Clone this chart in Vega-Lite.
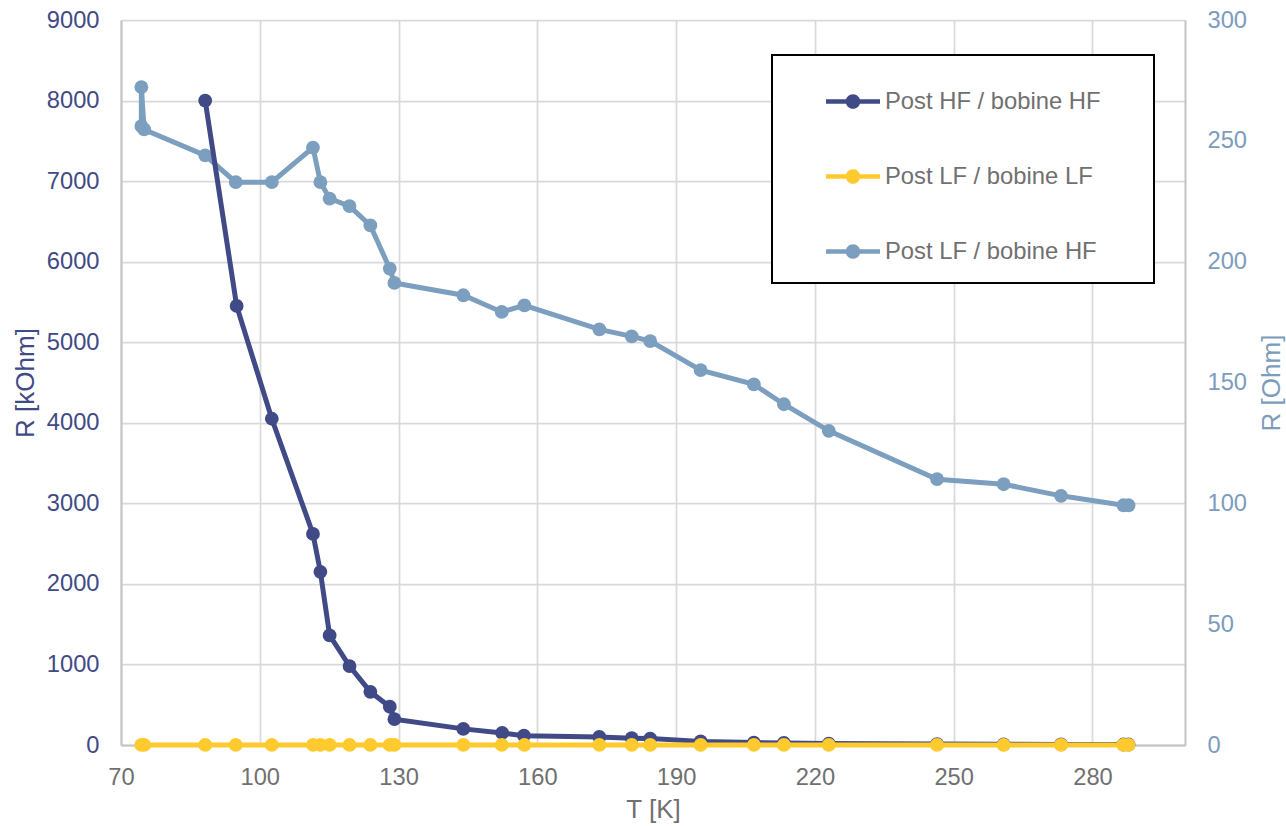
{
  "$schema": "https://vega.github.io/schema/vega-lite/v6.json",
  "width": 1064,
  "height": 725,
  "autosize": "none",
  "padding": {"left": 121, "top": 20, "right": 101, "bottom": 81},
  "background": "white",
  "datasets": {
    "pts": [
      {"T": 75.0, "series": "Post LF / bobine HF", "R_Ohm": 254.7},
      {"T": 74.4, "series": "Post LF / bobine HF", "R_Ohm": 256.1},
      {"T": 74.4, "series": "Post LF / bobine HF", "R_Ohm": 272.2},
      {"T": 88.2, "series": "Post LF / bobine HF", "R_Ohm": 244.0},
      {"T": 94.8, "series": "Post LF / bobine HF", "R_Ohm": 232.9},
      {"T": 102.6, "series": "Post LF / bobine HF", "R_Ohm": 232.9},
      {"T": 111.5, "series": "Post LF / bobine HF", "R_Ohm": 247.2},
      {"T": 113.1, "series": "Post LF / bobine HF", "R_Ohm": 232.9},
      {"T": 115.1, "series": "Post LF / bobine HF", "R_Ohm": 226.1},
      {"T": 119.4, "series": "Post LF / bobine HF", "R_Ohm": 223.0},
      {"T": 123.9, "series": "Post LF / bobine HF", "R_Ohm": 215.0},
      {"T": 128.1, "series": "Post LF / bobine HF", "R_Ohm": 197.1},
      {"T": 129.1, "series": "Post LF / bobine HF", "R_Ohm": 191.2},
      {"T": 144.0, "series": "Post LF / bobine HF", "R_Ohm": 186.1},
      {"T": 152.3, "series": "Post LF / bobine HF", "R_Ohm": 179.2},
      {"T": 157.2, "series": "Post LF / bobine HF", "R_Ohm": 181.9},
      {"T": 173.4, "series": "Post LF / bobine HF", "R_Ohm": 172.0},
      {"T": 180.4, "series": "Post LF / bobine HF", "R_Ohm": 169.1},
      {"T": 184.4, "series": "Post LF / bobine HF", "R_Ohm": 167.1},
      {"T": 195.3, "series": "Post LF / bobine HF", "R_Ohm": 155.1},
      {"T": 206.8, "series": "Post LF / bobine HF", "R_Ohm": 149.2},
      {"T": 213.3, "series": "Post LF / bobine HF", "R_Ohm": 141.0},
      {"T": 223.0, "series": "Post LF / bobine HF", "R_Ohm": 130.0},
      {"T": 246.4, "series": "Post LF / bobine HF", "R_Ohm": 110.0},
      {"T": 260.8, "series": "Post LF / bobine HF", "R_Ohm": 107.9},
      {"T": 273.2, "series": "Post LF / bobine HF", "R_Ohm": 103.1},
      {"T": 286.7, "series": "Post LF / bobine HF", "R_Ohm": 99.2},
      {"T": 287.8, "series": "Post LF / bobine HF", "R_Ohm": 99.2},

      {"T": 88.2, "series": "Post HF / bobine HF", "R_kOhm": 8000},
      {"T": 95.0, "series": "Post HF / bobine HF", "R_kOhm": 5450},
      {"T": 102.6, "series": "Post HF / bobine HF", "R_kOhm": 4050},
      {"T": 111.5, "series": "Post HF / bobine HF", "R_kOhm": 2620},
      {"T": 113.1, "series": "Post HF / bobine HF", "R_kOhm": 2150},
      {"T": 115.1, "series": "Post HF / bobine HF", "R_kOhm": 1360},
      {"T": 119.4, "series": "Post HF / bobine HF", "R_kOhm": 980},
      {"T": 123.9, "series": "Post HF / bobine HF", "R_kOhm": 660},
      {"T": 128.1, "series": "Post HF / bobine HF", "R_kOhm": 475},
      {"T": 129.1, "series": "Post HF / bobine HF", "R_kOhm": 320},
      {"T": 144.0, "series": "Post HF / bobine HF", "R_kOhm": 200},
      {"T": 152.4, "series": "Post HF / bobine HF", "R_kOhm": 150},
      {"T": 157.1, "series": "Post HF / bobine HF", "R_kOhm": 115},
      {"T": 173.4, "series": "Post HF / bobine HF", "R_kOhm": 100},
      {"T": 180.4, "series": "Post HF / bobine HF", "R_kOhm": 85},
      {"T": 184.4, "series": "Post HF / bobine HF", "R_kOhm": 80},
      {"T": 195.3, "series": "Post HF / bobine HF", "R_kOhm": 45},
      {"T": 206.8, "series": "Post HF / bobine HF", "R_kOhm": 30},
      {"T": 213.3, "series": "Post HF / bobine HF", "R_kOhm": 25},
      {"T": 223.0, "series": "Post HF / bobine HF", "R_kOhm": 18},
      {"T": 246.4, "series": "Post HF / bobine HF", "R_kOhm": 12},
      {"T": 260.8, "series": "Post HF / bobine HF", "R_kOhm": 9},
      {"T": 273.2, "series": "Post HF / bobine HF", "R_kOhm": 7},
      {"T": 286.7, "series": "Post HF / bobine HF", "R_kOhm": 6},
      {"T": 287.8, "series": "Post HF / bobine HF", "R_kOhm": 6},

      {"T": 75.0, "series": "Post LF / bobine LF", "R_kOhm": 0.3},
      {"T": 74.4, "series": "Post LF / bobine LF", "R_kOhm": 0.3},
      {"T": 88.2, "series": "Post LF / bobine LF", "R_kOhm": 0.3},
      {"T": 94.8, "series": "Post LF / bobine LF", "R_kOhm": 0.3},
      {"T": 102.6, "series": "Post LF / bobine LF", "R_kOhm": 0.3},
      {"T": 111.5, "series": "Post LF / bobine LF", "R_kOhm": 0.3},
      {"T": 113.1, "series": "Post LF / bobine LF", "R_kOhm": 0.3},
      {"T": 115.1, "series": "Post LF / bobine LF", "R_kOhm": 0.3},
      {"T": 119.4, "series": "Post LF / bobine LF", "R_kOhm": 0.3},
      {"T": 123.9, "series": "Post LF / bobine LF", "R_kOhm": 0.3},
      {"T": 128.1, "series": "Post LF / bobine LF", "R_kOhm": 0.3},
      {"T": 129.1, "series": "Post LF / bobine LF", "R_kOhm": 0.3},
      {"T": 144.0, "series": "Post LF / bobine LF", "R_kOhm": 0.3},
      {"T": 152.3, "series": "Post LF / bobine LF", "R_kOhm": 0.3},
      {"T": 157.2, "series": "Post LF / bobine LF", "R_kOhm": 0.3},
      {"T": 173.4, "series": "Post LF / bobine LF", "R_kOhm": 0.3},
      {"T": 180.4, "series": "Post LF / bobine LF", "R_kOhm": 0.3},
      {"T": 184.4, "series": "Post LF / bobine LF", "R_kOhm": 0.3},
      {"T": 195.3, "series": "Post LF / bobine LF", "R_kOhm": 0.3},
      {"T": 206.8, "series": "Post LF / bobine LF", "R_kOhm": 0.3},
      {"T": 213.3, "series": "Post LF / bobine LF", "R_kOhm": 0.3},
      {"T": 223.0, "series": "Post LF / bobine LF", "R_kOhm": 0.3},
      {"T": 246.4, "series": "Post LF / bobine LF", "R_kOhm": 0.3},
      {"T": 260.8, "series": "Post LF / bobine LF", "R_kOhm": 0.3},
      {"T": 273.2, "series": "Post LF / bobine LF", "R_kOhm": 0.3},
      {"T": 286.7, "series": "Post LF / bobine LF", "R_kOhm": 0.3},
      {"T": 287.8, "series": "Post LF / bobine LF", "R_kOhm": 0.3}
    ]
  },
  "data": {"name": "pts"},
  "encoding": {
    "x": {
      "field": "T",
      "type": "quantitative",
      "scale": {"domain": [70, 300], "nice": false, "zero": false},
      "axis": {
        "title": "T [K]",
        "values": [70, 100, 130, 160, 190, 220, 250, 280],
        "grid": true,
        "gridColor": "#D9D9D9",
        "gridWidth": 1.75,
        "domainColor": "#C4C4C4",
        "domainWidth": 2,
        "ticks": false,
        "tickSize": 0,
        "labelPadding": 20,
        "labelFlush": false,
        "labelOverlap": false,
        "labelFontSize": 23.7,
        "labelColor": "#707070",
        "titleFontSize": 26,
        "titleColor": "#707070",
        "titlePadding": 8
      }
    },
    "color": {
      "field": "series",
      "type": "nominal",
      "scale": {
        "domain": ["Post HF / bobine HF", "Post LF / bobine LF", "Post LF / bobine HF"],
        "range": ["#3F4A86", "#FFCA2E", "#7C9EBF"]
      },
      "legend": {
        "title": null,
        "orient": "none",
        "legendX": 651,
        "legendY": 35,
        "direction": "vertical",
        "padding": 19.5,
        "fillColor": "white",
        "strokeColor": "black",
        "symbolType": "M-1,-0.08L1,-0.08L1,0.08L-1,0.08ZM0.27,0A0.27,0.27,0,1,1,-0.27,0A0.27,0.27,0,1,1,0.27,0Z",
        "symbolSize": 2916,
        "symbolStrokeWidth": 0,
        "symbolOffset": 34.5,
        "labelOffset": 5,
        "rowPadding": 36,
        "labelFontSize": 23.8,
        "labelColor": "#707070",
        "labelLimit": 600,
        "labelExpr": "datum.label + '\u00a0\u00a0\u00a0\u00a0\u00a0\u200b'",
        "encode": {
          "legend": {
            "update": {
              "strokeWidth": {"value": 2}
            }
          },
          "symbols": {
            "update": {
              "opacity": {"value": 1}
            }
          }
        }
      }
    }
  },
  "layer": [
    {
      "transform": [{"filter": "datum.series === 'Post LF / bobine HF'"}],
      "encoding": {
        "y": {
          "field": "R_Ohm",
          "type": "quantitative",
          "scale": {"domain": [0, 300], "nice": false},
          "axis": {
            "orient": "right",
            "title": "R [Ohm]",
            "values": [0, 50, 100, 150, 200, 250, 300],
            "format": "d",
            "grid": false,
            "domainColor": "#C4C4C4",
            "domainWidth": 2,
            "ticks": false,
            "tickSize": 0,
            "labelPadding": 22,
            "labelFlush": false,
            "labelOverlap": false,
            "labelFontSize": 23.7,
            "labelColor": "#7B9CBD",
            "titleFontSize": 26,
            "titleColor": "#7B9CBD",
            "titleAngle": 270,
            "titleBaseline": "top",
            "titlePadding": 12
          }
        }
      },
      "layer": [
        {"mark": {"type": "line", "strokeWidth": 5}},
        {"mark": {"type": "point", "filled": true, "size": 190, "opacity": 1}}
      ]
    },
    {
      "encoding": {
        "y": {
          "field": "R_kOhm",
          "type": "quantitative",
          "scale": {"domain": [0, 9000], "nice": false},
          "axis": {
            "orient": "left",
            "title": "R [kOhm]",
            "values": [0, 1000, 2000, 3000, 4000, 5000, 6000, 7000, 8000, 9000],
            "format": "d",
            "grid": true,
            "gridColor": "#D9D9D9",
            "gridWidth": 1.75,
            "domainColor": "#C4C4C4",
            "domainWidth": 2,
            "ticks": false,
            "tickSize": 0,
            "labelPadding": 22,
            "labelFlush": false,
            "labelOverlap": false,
            "labelFontSize": 23.7,
            "labelColor": "#3F4A86",
            "titleFontSize": 26,
            "titleColor": "#3F4A86",
            "titlePadding": 8
          }
        }
      },
      "layer": [
        {
          "transform": [{"filter": "datum.series === 'Post HF / bobine HF'"}],
          "layer": [
            {"mark": {"type": "line", "strokeWidth": 5}},
            {"mark": {"type": "point", "filled": true, "size": 190, "opacity": 1}}
          ]
        },
        {
          "transform": [{"filter": "datum.series === 'Post LF / bobine LF'"}],
          "layer": [
            {"mark": {"type": "line", "strokeWidth": 5}},
            {"mark": {"type": "point", "filled": true, "size": 190, "opacity": 1}}
          ]
        }
      ]
    }
  ],
  "resolve": {"scale": {"y": "independent"}},
  "config": {
    "font": "Liberation Sans",
    "view": {"stroke": null},
    "axis": {"titleFontWeight": "normal"}
  }
}
